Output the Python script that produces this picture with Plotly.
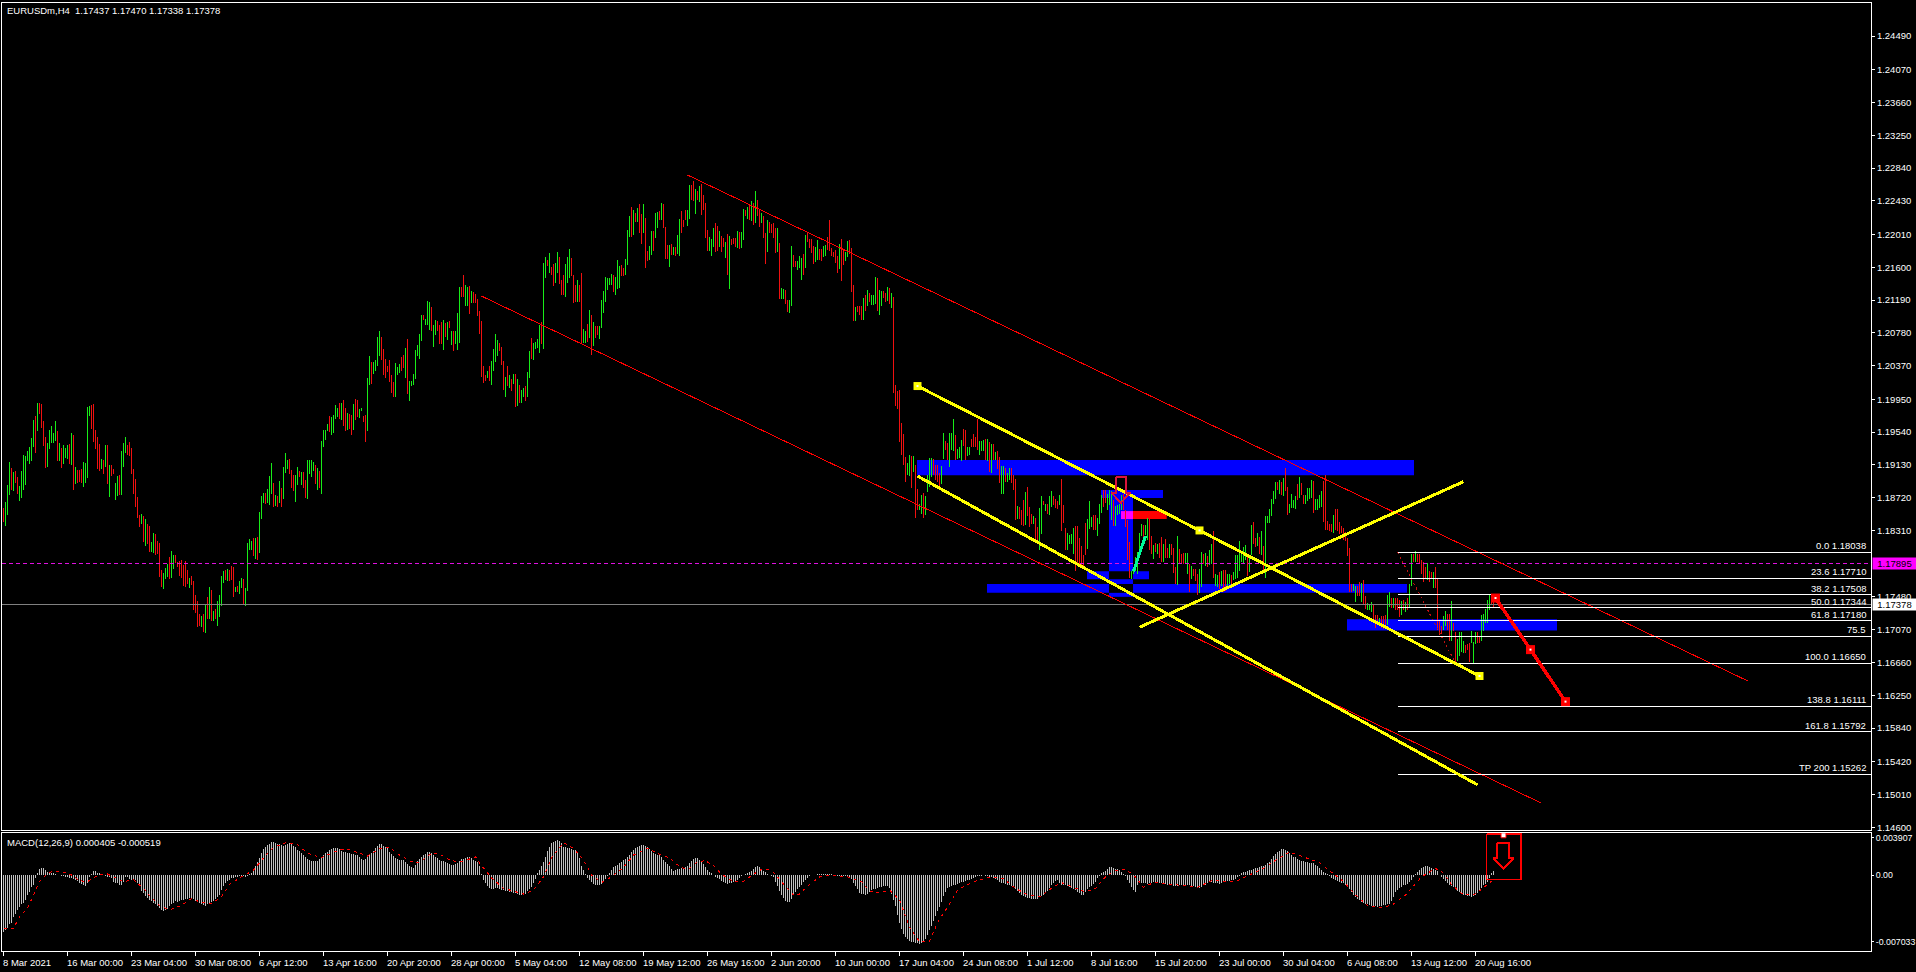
import plotly.graph_objects as go

# ---------- chart data (prices in units of 0.0001, bar index on x) ----------
high = [
11859,11866,11888,11916,11909,11904,11905,11898,11886,11905,
11925,11924,11930,11935,11946,11969,11974,11990,11990,11989,
11968,11948,11940,11956,11961,11953,11968,11955,11940,11934,
11938,11934,11938,11939,11953,11950,11910,11906,11906,11908,
11916,11915,11985,11986,11988,11989,11956,11948,11939,11920,
11919,11938,11938,11913,11913,11908,11890,11899,11900,11930,
11940,11948,11938,11941,11934,11908,11895,11873,11850,11851,
11849,11845,11839,11836,11816,11828,11826,11818,11815,11781,
11778,11784,11789,11798,11805,11800,11800,11791,11793,11794,
11788,11793,11781,11771,11774,11768,11750,11743,11726,11724,
11726,11738,11748,11760,11756,11730,11733,11743,11750,11774,
11780,11781,11783,11781,11786,11785,11760,11761,11768,11771,
11770,11759,11815,11820,11818,11821,11821,11823,11854,11874,
11878,11878,11883,11899,11915,11890,11875,11874,11893,11884,
11910,11928,11919,11920,11906,11900,11900,11910,11905,11904,
11904,11894,11919,11919,11919,11916,11913,11909,11905,11943,
11956,11956,11964,11974,11973,11975,11988,11984,11990,11990,
11994,11984,11978,11976,11975,11989,11995,11994,11983,11984,
11974,11975,12021,12049,12041,12041,12044,12073,12080,12073,
12058,12045,12036,12044,12025,12016,12040,12035,12039,12048,
12050,12059,12070,12018,12018,12026,12056,12063,12076,12100,
12100,12095,12118,12116,12110,12088,12094,12093,12088,12091,
12094,12090,12091,12093,12080,12080,12080,12103,12135,12135,
12150,12138,12135,12136,12130,12129,12127,12120,12105,12093,
12036,12025,12030,12036,12043,12058,12076,12069,12065,12060,
12043,12023,12036,12025,12020,12026,12026,12020,12013,12006,
12009,12011,12029,12055,12071,12065,12066,12070,12088,12091,
12165,12173,12169,12178,12160,12164,12165,12179,12173,12144,
12150,12164,12173,12183,12171,12150,12138,12144,12138,12153,
12083,12080,12089,12106,12100,12091,12086,12086,12086,12119,
12130,12148,12146,12146,12151,12150,12148,12169,12161,12163,
12159,12170,12206,12224,12235,12231,12228,12234,12239,12226,
12239,12221,12180,12186,12205,12205,12228,12229,12230,12240,
12239,12210,12188,12188,12189,12185,12185,12200,12220,12230,
12219,12231,12231,12263,12263,12268,12258,12255,12261,12264,
12250,12240,12206,12198,12195,12209,12215,12211,12205,12199,
12196,12191,12201,12199,12195,12196,12196,12205,12204,12204,
12233,12231,12235,12239,12243,12240,12255,12244,12231,12228,
12224,12203,12219,12216,12214,12215,12209,12209,12190,12134,
12133,12131,12119,12119,12186,12175,12168,12168,12174,12171,
12176,12200,12203,12195,12195,12186,12185,12194,12183,12183,
12186,12188,12198,12219,12184,12179,12181,12174,12189,12195,
12181,12179,12193,12194,12184,12138,12110,12111,12111,12111,
12121,12125,12131,12128,12125,12125,12148,12146,12131,12130,
12130,12128,12135,12134,12128,12123,12013,12005,12006,11965,
11951,11923,11915,11925,11924,11924,11913,11883,11864,11875,
11878,11874,11900,11921,11921,11920,11913,11913,11903,11911,
11953,11943,11940,11953,11953,11970,11950,11933,11935,11944,
11958,11956,11935,11935,11945,11951,11948,11970,11943,11943,
11944,11945,11945,11941,11939,11939,11929,11930,11923,11911,
11911,11909,11903,11909,11909,11900,11895,11861,11860,11856,
11869,11879,11885,11860,11851,11849,11846,11835,11859,11874,
11868,11864,11864,11874,11880,11874,11870,11868,11875,11895,
11863,11834,11828,11825,11826,11834,11836,11836,11821,11811,
11800,11840,11845,11868,11848,11850,11850,11846,11864,11875,
11881,11881,11876,11881,11880,11869,11861,11863,11864,11875,
11876,11856,11844,11816,11780,11785,11798,11804,11828,11839,
11838,11838,11846,11845,11824,11813,11815,11814,11815,11823,
11814,11820,11809,11814,11814,11809,11785,11824,11808,11801,
11803,11803,11803,11789,11786,11783,11783,11776,11783,11804,
11801,11803,11799,11806,11814,11830,11776,11775,11779,11780,
11781,11781,11776,11776,11775,11779,11800,11800,11818,11803,
11810,11813,11800,11800,11838,11841,11821,11828,11823,11830,
11811,11849,11849,11858,11870,11880,11891,11891,11894,11891,
11896,11909,11885,11864,11876,11869,11874,11889,11898,11890,
11875,11875,11884,11884,11894,11893,11870,11870,11875,11880,
11893,11900,11843,11839,11839,11850,11858,11858,11841,11836,
11834,11829,11821,11809,11764,11764,11761,11761,11766,11765,
11769,11749,11740,11739,11741,11739,11725,11725,11721,11724,
11724,11725,11750,11754,11746,11746,11746,11746,11744,11743,
11744,11741,11746,11764,11801,11801,11805,11801,11801,11794,
11791,11785,11790,11780,11779,11779,11785,11770,11719,11711,11724,
11730,11726,11726,11743,11715,11704,11695,11704,11704,11693,
11688,11689,11690,11705,11691,11704,11704,11699,11725,11726,
11733,11744,11750,11749,11747]

low = [
11842,11836,11850,11875,11881,11880,11890,11876,11868,11871,
11881,11888,11918,11914,11918,11935,11928,11955,11976,11959,
11936,11909,11910,11933,11940,11940,11943,11918,11918,11909,
11914,11921,11920,11914,11913,11881,11889,11890,11891,11890,
11885,11890,11896,11974,11958,11941,11933,11908,11905,11908,
11901,11910,11889,11873,11899,11901,11869,11874,11875,11875,
11910,11928,11925,11924,11901,11876,11860,11846,11835,11839,
11816,11811,11814,11804,11804,11803,11800,11801,11773,11760,
11758,11770,11773,11770,11771,11783,11790,11785,11774,11771,
11761,11760,11764,11759,11763,11731,11728,11710,11711,11710,
11704,11703,11720,11720,11718,11718,11720,11711,11723,11736,
11765,11769,11768,11768,11769,11748,11754,11754,11751,11759,
11739,11736,11755,11806,11806,11799,11795,11794,11803,11845,
11865,11864,11865,11863,11876,11860,11861,11860,11865,11860,
11870,11903,11908,11901,11884,11880,11866,11888,11898,11888,
11884,11871,11870,11901,11898,11905,11889,11881,11884,11876,
11935,11944,11955,11954,11950,11953,11970,11973,11970,11969,
11961,11955,11956,11958,11950,11956,11969,11973,11971,11980,
11966,11941,11955,12013,12014,12026,12030,12036,12049,12044,
12025,12021,12029,12016,12003,11998,11998,12025,12028,12030,
12034,12021,12001,11993,12011,12013,12020,12049,12045,12068,
12094,12088,12088,12081,12080,12060,12075,12080,12064,12064,
12056,12073,12069,12084,12063,12055,12064,12056,12065,12123,
12123,12111,12111,12101,12115,12115,12115,12099,12076,12023,
12015,12018,12021,12018,12013,12030,12041,12049,12055,12038,
12006,11998,12011,12009,12005,12014,11985,11986,11990,11990,
11998,11993,11998,12021,12045,12044,12058,12059,12053,12064,
12058,12146,12161,12153,12150,12136,12140,12153,12139,12125,
12125,12123,12140,12146,12149,12115,12116,12116,12116,12065,
12065,12065,12066,12071,12050,12061,12071,12075,12070,12084,
12103,12116,12131,12138,12138,12129,12125,12133,12134,12149,
12149,12150,12163,12198,12198,12200,12216,12216,12203,12189,
12203,12159,12168,12169,12175,12180,12196,12209,12219,12219,
12209,12170,12170,12160,12175,12175,12174,12176,12174,12203,
12210,12219,12211,12220,12244,12243,12226,12244,12241,12225,
12231,12196,12180,12180,12174,12185,12179,12180,12185,12179,
12185,12171,12150,12133,12188,12189,12185,12184,12183,12184,
12194,12224,12220,12219,12218,12213,12215,12224,12210,12215,
12196,12164,12179,12203,12203,12196,12178,12179,12120,12120,
12120,12114,12104,12103,12111,12160,12160,12156,12159,12144,
12150,12159,12191,12184,12178,12164,12166,12169,12169,12168,
12173,12174,12181,12180,12174,12173,12165,12153,12158,12143,
12163,12168,12173,12176,12129,12093,12093,12104,12100,12094,
12094,12105,12111,12116,12113,12113,12114,12105,12100,12111,
12121,12116,12118,12114,12109,12003,11986,11983,11942,11925,
11913,11892,11900,11899,11884,11904,11846,11856,11856,11851,
11846,11850,11879,11885,11898,11900,11894,11891,11881,11889,
11920,11931,11919,11910,11931,11930,11919,11920,11921,11918,
11936,11919,11924,11925,11935,11935,11935,11931,11925,11930,
11930,11919,11918,11904,11903,11919,11919,11908,11890,11876,
11876,11891,11891,11894,11890,11881,11844,11845,11845,11838,
11836,11838,11849,11835,11839,11839,11820,11819,11806,11826,
11863,11855,11851,11850,11860,11863,11859,11858,11863,11830,
11840,11806,11806,11814,11814,11801,11780,11788,11786,11785,
11785,11800,11808,11833,11835,11831,11831,11824,11839,11853,
11860,11865,11856,11863,11844,11836,11836,11850,11852,11856,
11856,11835,11794,11771,11770,11776,11780,11776,11800,11824,
11819,11825,11819,11806,11801,11795,11804,11801,11796,11791,
11791,11796,11796,11796,11800,11778,11764,11763,11789,11789,
11789,11789,11776,11754,11770,11774,11768,11750,11753,11760,
11789,11786,11785,11788,11789,11771,11761,11760,11758,11761,
11754,11755,11761,11764,11761,11769,11770,11771,11780,11791,
11789,11794,11774,11779,11800,11814,11810,11811,11801,11800,
11781,11771,11840,11840,11849,11864,11870,11881,11876,11875,
11874,11880,11850,11853,11859,11859,11858,11869,11871,11875,
11864,11864,11868,11870,11871,11853,11856,11856,11859,11860,
11841,11831,11831,11830,11829,11828,11831,11830,11826,11828,
11819,11818,11799,11754,11754,11755,11741,11749,11749,11741,
11739,11733,11731,11731,11729,11719,11709,11713,11715,11709,
11708,11713,11713,11735,11734,11734,11731,11731,11723,11725,
11731,11729,11731,11734,11761,11791,11791,11792,11790,11776,
11766,11770,11769,11766,11770,11759,11759,11706,11700,11701,11706,
11711,11707,11693,11693,11705,11666,11668,11674,11679,11678,
11678,11681,11666,11690,11664,11689,11690,11690,11693,11705,
11715,11715,11731,11738,11734]

direction = (
"rgggrgrrgg" "ggggggrgrr" "rrgggggrgr" "gggrgrgrrr" "ggggrrrrrg"
"rgrgrrggrg" "ggrrrrrrrg" "rgrrggrrrr" "gggrggrrrr" "rrrgrrrrrg"
"rgrgrgrggg" "grgrrrgrgg" "rggggrgrgg" "grgggrgrgr" "gggrrrggrg"
"rrggggrgrg" "gggrggggrg" "rrgrrgrrgg" "rrggrggggr" "rrrrrrgggr"
"rgrggggggg" "rgggrggrrr" "grgrgrgggr" "rggrgrrrrr" "rrgrggggrr"
"rgrgrgrgrg" "grggrggggr" "ggrgrrggrr" "rgggrrrgrr" "ggrgrgrrgg"
"gggggrgggr" "rgggrgrgrr" "grrggrggrg" "rrrgrgrggr" "rrggrrgrgr"
"rrrgggrrgr" "rgrgrrrgrg" "grgrgrgrrg" "rrgrrrrgrg" "grrggrrggg"
"rgrrrrggrr" "ggrrrrrrgr" "rggrrrgrrr" "grgrgggrgg" "rrgrgrrrrr"
"rrggrgrrgg" "rggggrrrrg" "grrgggrggg" "rrggrrrrgg" "grgrgrgrrg"
"grggrrrgrr" "rgrrrgrrgg" "rgrggrrrgr" "rrggggrrrr" "rrgggrrggg"
"rrgggrgggg" "rrrrgggggg" "rggrrgrgrr" "grrgrrrgrr" "rggrgrrrgg"
"rgrggrggrg" "rrggrggggg" "ggrggrrgrg" "rggggggrgr" "grrggggrgr"
"rggggrgggg" "rrrrrgrrrr" "rrrrrggrrg" "rrgggrrrgr" "rrggrgrrrg"
"rgrggrgrrr" "rrgrrgrrrrg" "grrgrrgggg" "rrrgggrrgg" "gggrr")

# MACD histogram and signal, units of 0.0001
macd = [
-60,-58,-56,-52,-50,-44,-41,-37,-34,-31,-29,-26,-21,-18,-13,-10,-3,2,6,7,
7,5,3,3,2,2,1,0,0,-1,-1,-2,-2,-3,-3,-4,-5,-6,-8,-9,
-11,-12,-8,-2,1,4,4,2,2,1,0,-1,-2,-2,-3,-7,-8,-8,-10,-11,
-7,-2,-2,-4,-5,-4,-5,-8,-12,-17,-19,-22,-24,-26,-27,-29,-31,-33,-35,-37,
-38,-37,-36,-33,-31,-29,-27,-28,-27,-26,-26,-25,-25,-24,-24,-25,-27,-28,-29,-30,
-32,-33,-31,-30,-28,-27,-25,-23,-21,-16,-12,-8,-6,-5,-3,-3,-2,-2,-1,-2,
-1,-2,-1,1,2,5,10,14,18,23,27,29,32,33,35,35,34,33,33,32,
31,32,33,34,33,31,29,26,25,23,21,19,17,16,15,15,15,15,17,19,
21,23,24,26,27,28,28,28,27,25,24,24,23,23,22,22,21,21,19,17,
16,17,19,21,23,25,28,31,33,33,31,30,28,24,22,20,18,17,16,16,
16,14,12,10,8,7,11,15,17,19,21,22,24,24,23,21,19,18,16,15,
15,14,13,12,11,11,12,13,15,17,17,18,19,19,18,16,15,14,10,1,
-5,-8,-12,-14,-15,-15,-14,-14,-15,-16,-16,-17,-17,-18,-18,-19,-19,-20,-21,-21,
-21,-20,-17,-15,-13,-8,-4,2,5,9,14,19,25,30,34,35,36,37,36,34,
30,29,28,28,27,26,26,24,18,10,5,1,-3,-5,-7,-9,-10,-11,-11,-9,
-7,-4,-1,2,5,8,10,11,13,14,16,17,19,21,24,26,28,30,31,32,
32,31,29,27,25,23,22,21,21,19,16,14,12,9,6,4,5,6,6,7,
7,8,10,13,15,17,18,18,16,14,12,8,5,3,2,0,-2,-3,-4,-6,
-7,-8,-9,-8,-8,-7,-7,-5,-3,-1,0,1,2,3,4,6,8,9,8,6,
4,3,1,0,-1,-2,-7,-12,-17,-21,-24,-27,-28,-28,-25,-21,-18,-15,-13,-10,
-7,-5,-3,-1,0,0,0,1,1,1,1,1,1,1,1,0,0,-1,-1,-1,
-1,-1,-2,-3,-4,-8,-12,-15,-19,-20,-20,-21,-20,-18,-16,-15,-15,-14,-13,-13,
-12,-12,-12,-14,-20,-26,-33,-42,-50,-57,-62,-65,-67,-69,-70,-70,-72,-72,-73,-72,
-70,-67,-63,-58,-54,-48,-43,-38,-34,-28,-22,-18,-14,-13,-12,-11,-10,-9,-8,-7,
-7,-6,-5,-5,-4,-3,-2,-1,-1,-1,0,-1,-1,-2,-2,-3,-4,-5,-7,-8,
-8,-9,-10,-11,-12,-13,-15,-17,-19,-21,-22,-23,-24,-24,-25,-25,-25,-25,-23,-22,
-21,-18,-17,-14,-10,-8,-6,-5,-8,-10,-10,-11,-12,-13,-14,-15,-16,-18,-19,-21,
-21,-18,-15,-13,-12,-9,-7,-3,-1,2,3,4,6,8,8,7,6,6,5,3,
1,-1,-5,-8,-13,-16,-18,-11,-8,-8,-8,-8,-9,-8,-8,-7,-8,-8,-8,-8,
-9,-9,-10,-10,-11,-12,-12,-12,-11,-10,-10,-10,-10,-11,-12,-12,-13,-14,-14,-13,
-11,-10,-8,-7,-7,-8,-8,-8,-9,-8,-7,-7,-6,-6,-5,-5,-4,-2,-1,2,
3,3,4,5,5,6,7,7,8,9,10,11,13,14,17,20,22,24,25,27,
27,26,25,23,21,19,19,17,16,15,15,14,14,13,13,13,11,9,7,5,
3,2,1,-1,-3,-4,-5,-6,-7,-8,-8,-10,-12,-15,-18,-21,-23,-25,-26,-28,
-29,-30,-31,-32,-33,-33,-33,-34,-33,-33,-32,-32,-31,-30,-27,-23,-18,-16,-14,-13,
-11,-10,-9,-7,-5,-2,1,3,5,7,8,9,9,8,7,6,5,4,0,-2,-4,
-6,-8,-10,-12,-13,-15,-17,-18,-20,-21,-21,-22,-22,-23,-22,-21,-19,-16,-14,-11,
-9,-7,-3,2,4]

signal_x = [
0,5,8,12,15,18,22,25,30,34,38,42,46,51,55,60,65,70,74,79,
84,89,94,99,104,109,113,119,125,130,135,141,147,152,159,165,171,178,182,188,
193,198,204,208,214,218,224,229,236,239,244,250,260,265,270,274,280,285,290,294,
299,304,310,315,322,329,333,336,340,343,347,351,355,358,361,365,370,373,376,379,
382,385,389,392,395,398,403,408,413,422,429,433,438,443,448,453,458,463,467,472,
477,482,488,494,500,506,512,518,524,529,535,541,546,551,556,561,566,570,575,585,
597,604,616,623,631,637,643,650,658,664,670,676,682,689,694,701,709,716,720,724,
730,736,742,745]
signal = [
-56,-56,-44,-35,-21,-7,2,4,3,0,-6,-7,-2,2,-2,-7,-5,-14,-24,-34,
-36,-32,-25,-29,-30,-23,-10,-2,5,18,29,34,32,23,18,24,28,23,20,28,
29,21,14,13,23,22,15,14,19,10,-3,-14,-20,-16,-2,18,34,28,16,0,
-8,-2,8,21,28,21,18,12,7,7,14,15,10,3,-2,-7,-7,-2,2,6,
6,3,-7,-14,-21,-20,-10,-2,0,-2,-7,-17,-19,-16,-26,-55,-70,-70,-50,-34,
-16,-10,-5,-2,-4,-14,-21,-23,-14,-8,-13,-18,-14,-2,5,6,-2,-13,-8,-10,
-13,-6,-7,0,8,17,24,19,13,3,-7,-21,-32,-34,-32,-21,-2,7,2,-10,
-21,-20,-10,-5]

# Axis labels
price_ticks = [1.24490,1.24070,1.23660,1.23250,1.22840,1.22430,1.22010,1.21600,1.21190,
               1.20780,1.20370,1.19950,1.19540,1.19130,1.18720,1.18310,1.17480,1.17070,
               1.16660,1.16250,1.15840,1.15420,1.15010,1.14600]
macd_ticks = [0.003907, 0.0, -0.007033]
macd_tick_text = ["0.003907", "0.00", "-0.007033"]
date_labels = ["8 Mar 2021","16 Mar 00:00","23 Mar 04:00","30 Mar 08:00","6 Apr 12:00","13 Apr 16:00",
               "20 Apr 20:00","28 Apr 00:00","5 May 04:00","12 May 08:00","19 May 12:00","26 May 16:00",
               "2 Jun 20:00","10 Jun 00:00","17 Jun 04:00","24 Jun 08:00","1 Jul 12:00","8 Jul 16:00",
               "15 Jul 20:00","23 Jul 00:00","30 Jul 04:00","6 Aug 08:00","13 Aug 12:00","20 Aug 16:00"]
date_bars = [32 * i for i in range(len(date_labels))]

# Fibonacci levels
fib_prices = [1.18038,1.17710,1.17508,1.17344,1.17180,1.16990,1.16650,1.16111,1.15792,1.15262]
fib_labels = ["0.0 1.18038","23.6 1.17710","38.2 1.17508","50.0 1.17344","61.8 1.17180",
              "75.5","100.0 1.16650","138.8 1.16111","161.8 1.15792","TP 200 1.15262"]
fib_start_bar = 697
bid_price = 1.17378
alert_price = 1.17895

# Chart objects: bar index and price on the price pane
channel_upper = ([342, 872], [1.22753, 1.16430])
channel_lower = ([239, 769], [1.21240, 1.14900])
yellow_upper = ([457, 598, 738], [1.20115, 1.18310, 1.16490])
yellow_lower = ([457, 737], [1.18990, 1.15130])
yellow_rising = ([568, 730], [1.17100, 1.18920])
fib_diagonal = ([697, 726], [1.18038, 1.16650])
spring_line = ([565, 571], [1.17800, 1.18240])
forecast = ([746, 763.5, 781], [1.17465, 1.16820, 1.16170])
alert_arrow_x = [556.1, 556.1, 554, 558.7, 563.4, 561.3, 561.3, 556.1]
alert_arrow_y = [1.18978, 1.18780, 1.18780, 1.18656, 1.18780, 1.18780, 1.18978, 1.18978]

# Zones: bar from, bar to, price top, price bottom
blue_x0 = [456.75, 548.75, 552.75, 541.75, 564.75, 552.75, 491.75, 564.75, 552.75, 671.75]
blue_x1 = [705.25, 579.75, 564.75, 552.75, 572.75, 564.75, 552.75, 701.75, 564.75, 776.75]
blue_hi = [1.19190,1.18815,1.18715,1.17800,1.17800,1.17700,1.17640,1.17640,1.17530,1.17200]
blue_lo = [1.19000,1.18715,1.17800,1.17700,1.17700,1.17640,1.17530,1.17530,1.17480,1.17060]
magenta_zone = ([558.75, 564.75], [1.18552, 1.18452])
red_zone = ([564.75, 581.6], [1.18552, 1.18452])

macd_box_x = [741.5, 758.7]
macd_box_v = [0.00432, -0.00045]
macd_arrow_x = [746.7, 746.7, 744.8, 750, 755.2, 752.8, 752.8, 746.7]
macd_arrow_v = [0.00341, 0.00177, 0.00177, 0.00072, 0.00177, 0.00177, 0.00341, 0.00341]

# ---------- styling ----------
GREEN, RED, BLUE, YELLOW = "#18EC18", "#F01010", "#0000FF", "#FFFF00"
FONT = "Liberation Sans"
FSIZE = 9.5
W, H = 1916, 972
X0, X1 = -0.75, 933.75


def py(y):
    return 1 - y / H


def stems(idx, lows, highs):
    xs, ys = [], []
    for i, a, b in zip(idx, lows, highs):
        xs += [i, i, None]
        ys += [a, b, None]
    return xs, ys


ups = [i for i, d in enumerate(direction) if d == "g"]
downs = [i for i, d in enumerate(direction) if d == "r"]

fig = go.Figure()


def line(xy, color, width=1, dash="solid", mode="lines", xaxis="x", yaxis="y", **kw):
    fig.add_trace(go.Scatter(x=xy[0], y=xy[1], mode=mode,
                             line=dict(color=color, width=width, dash=dash, simplify=False),
                             xaxis=xaxis, yaxis=yaxis, hoverinfo="skip", showlegend=False, **kw))


line(stems(ups, [low[i] / 1e4 for i in ups], [high[i] / 1e4 for i in ups]), GREEN)
line(stems(downs, [low[i] / 1e4 for i in downs], [high[i] / 1e4 for i in downs]), RED)
line(([X0, X1], [alert_price] * 2), "#E010E0", 1, "4px,3px")
line(([X0, X1], [bid_price] * 2), "#808080", 1)
line(channel_upper, "#FF0000", 1)
line(channel_lower, "#FF0000", 1)
line(fib_diagonal, "#C01010", 1, "2px,3px")
for p in fib_prices:
    line(([fib_start_bar, X1], [p, p]), "#FFFFFF", 1)
line(yellow_rising, YELLOW, 3)
line(yellow_lower, YELLOW, 3)
line(yellow_upper, YELLOW, 3, mode="lines+markers", marker=dict(symbol="square", size=8, color=YELLOW))
line(yellow_upper, YELLOW, 0, mode="markers", marker=dict(symbol="square", size=2, color="#FFFFFF"))
line(spring_line, "#00FA9A", 3)
line(forecast, "#FF0000", 3.5, mode="lines+markers", marker=dict(symbol="square", size=9, color="#FF0000"))
line(forecast, "#FF0000", 0, mode="markers", marker=dict(symbol="square", size=2, color="#FFFFFF"))
line((alert_arrow_x, alert_arrow_y), "#DC143C", 2)

# MACD pane
idx = list(range(len(macd)))
line(stems(idx, [0.0] * len(idx), [v / 1e4 for v in macd]), "#C0C0C0", xaxis="x2", yaxis="y2")
line((signal_x, [v / 1e4 for v in signal]), "#FF0000", 1, "3px,4px", xaxis="x2", yaxis="y2")
line(([macd_box_x[0], macd_box_x[1], macd_box_x[1], macd_box_x[0], macd_box_x[0]],
      [macd_box_v[0], macd_box_v[0], macd_box_v[1], macd_box_v[1], macd_box_v[0]]),
     "#FF0000", 1.5, xaxis="x2", yaxis="y2")
line((macd_arrow_x, macd_arrow_v), "#FF0000", 2, xaxis="x2", yaxis="y2")
line(([750], [0.00418]), "#FF0000", 0, mode="markers", xaxis="x2", yaxis="y2",
     marker=dict(symbol="square", size=5, color="#FFFFFF", line=dict(color="#FF0000", width=1)))

# Zones as shapes under the bars
shapes = []
for x0, x1, hi, lo in zip(blue_x0, blue_x1, blue_hi, blue_lo):
    shapes.append(dict(type="rect", xref="x", yref="y", x0=x0, x1=x1, y0=lo, y1=hi,
                       fillcolor=BLUE, line_width=0, layer="below"))
for zone, col in ((magenta_zone, "#FF00FF"), (red_zone, "#FF0000")):
    shapes.append(dict(type="rect", xref="x", yref="y", x0=zone[0][0], x1=zone[0][1], y0=zone[1][1],
                       y1=zone[1][0], fillcolor=col, line_width=0, layer="below"))

anns = []
for k, t in zip(date_bars, date_labels):
    anns.append(dict(x=k, y=py(962), xref="x2", yref="paper", text=t, showarrow=False, xanchor="left",
                     yanchor="middle", xshift=-3, font=dict(family=FONT, size=FSIZE, color="#FFFFFF")))
for p, t in zip(fib_prices, fib_labels):
    anns.append(dict(x=1868 / W, y=p, xref="paper", yref="y", text=t, showarrow=False, xanchor="right",
                     yanchor="bottom", yshift=-1, font=dict(family=FONT, size=FSIZE, color="#FFFFFF")))
anns.append(dict(x=5 / W, y=py(11), xref="paper", yref="paper", showarrow=False, xanchor="left", yanchor="middle",
                 text="EURUSDm,H4&nbsp;&nbsp;1.17437 1.17470 1.17338 1.17378",
                 font=dict(family=FONT, size=FSIZE, color="#FFFFFF")))
anns.append(dict(x=5 / W, y=py(842), xref="paper", yref="paper", showarrow=False, xanchor="left", yanchor="middle",
                 text="MACD(12,26,9) 0.000405 -0.000519", font=dict(family=FONT, size=FSIZE, color="#FFFFFF")))
for p, t, bg in ((alert_price, "1.17895", "#FF00FF"), (bid_price, "1.17378", "#FFFFFF")):
    anns.append(dict(x=1872 / W, y=p, xref="paper", yref="y", text=t, showarrow=False, xanchor="left",
                     yanchor="middle", width=43, height=11, bgcolor=bg, borderpad=0, align="center",
                     font=dict(family=FONT, size=FSIZE, color="#000000")))

axis = dict(showgrid=False, zeroline=False, showline=True, linecolor="#FFFFFF", linewidth=1, mirror=True)
fig.update_layout(
    width=W, height=H, margin=dict(l=0, r=0, t=0, b=0), autosize=False,
    paper_bgcolor="#000000", plot_bgcolor="#000000", showlegend=False,
    font=dict(family=FONT, size=FSIZE, color="#FFFFFF"),
    xaxis=dict(axis, domain=[2 / W, 1871 / W], range=[X0, X1], showticklabels=False, ticks="", anchor="y"),
    xaxis2=dict(axis, domain=[2 / W, 1871 / W], range=[X0, X1], showticklabels=False, anchor="y2",
                tickmode="array", tickvals=date_bars, ticks="outside", ticklen=4, tickcolor="#FFFFFF", tickwidth=1),
    yaxis=dict(axis, domain=[py(830), py(2.5)], range=[1.14565, 1.24910], side="right", anchor="x",
               automargin=False, tickmode="array", tickvals=price_ticks,
               ticktext=["%.5f" % p for p in price_ticks],
               ticks="outside", ticklen=3, tickcolor="#FFFFFF", tickwidth=1,
               tickfont=dict(family=FONT, size=FSIZE, color="#FFFFFF")),
    yaxis2=dict(axis, domain=[py(951), py(832.5)], range=[-0.00800, 0.004474], side="right", anchor="x2",
                automargin=False, tickmode="array", tickvals=macd_ticks, ticktext=macd_tick_text,
                ticks="outside", ticklen=2, tickcolor="#FFFFFF", tickwidth=1,
                tickfont=dict(family=FONT, size=8.8, color="#FFFFFF")),
    shapes=shapes, annotations=anns,
)

crisp = ("document.body.style.margin='0';document.documentElement.style.overflow='hidden';"
         "function crisp(){document.querySelectorAll('.scatterlayer path.js-line')"
         ".forEach(function(p){p.style.shapeRendering='crispEdges';});}"
         "crisp();setTimeout(crisp,50);setTimeout(crisp,300);")
fig.write_html("out.html", config=dict(displayModeBar=False), post_script=crisp)
print(len(high), len(low), len(direction), len(macd))
